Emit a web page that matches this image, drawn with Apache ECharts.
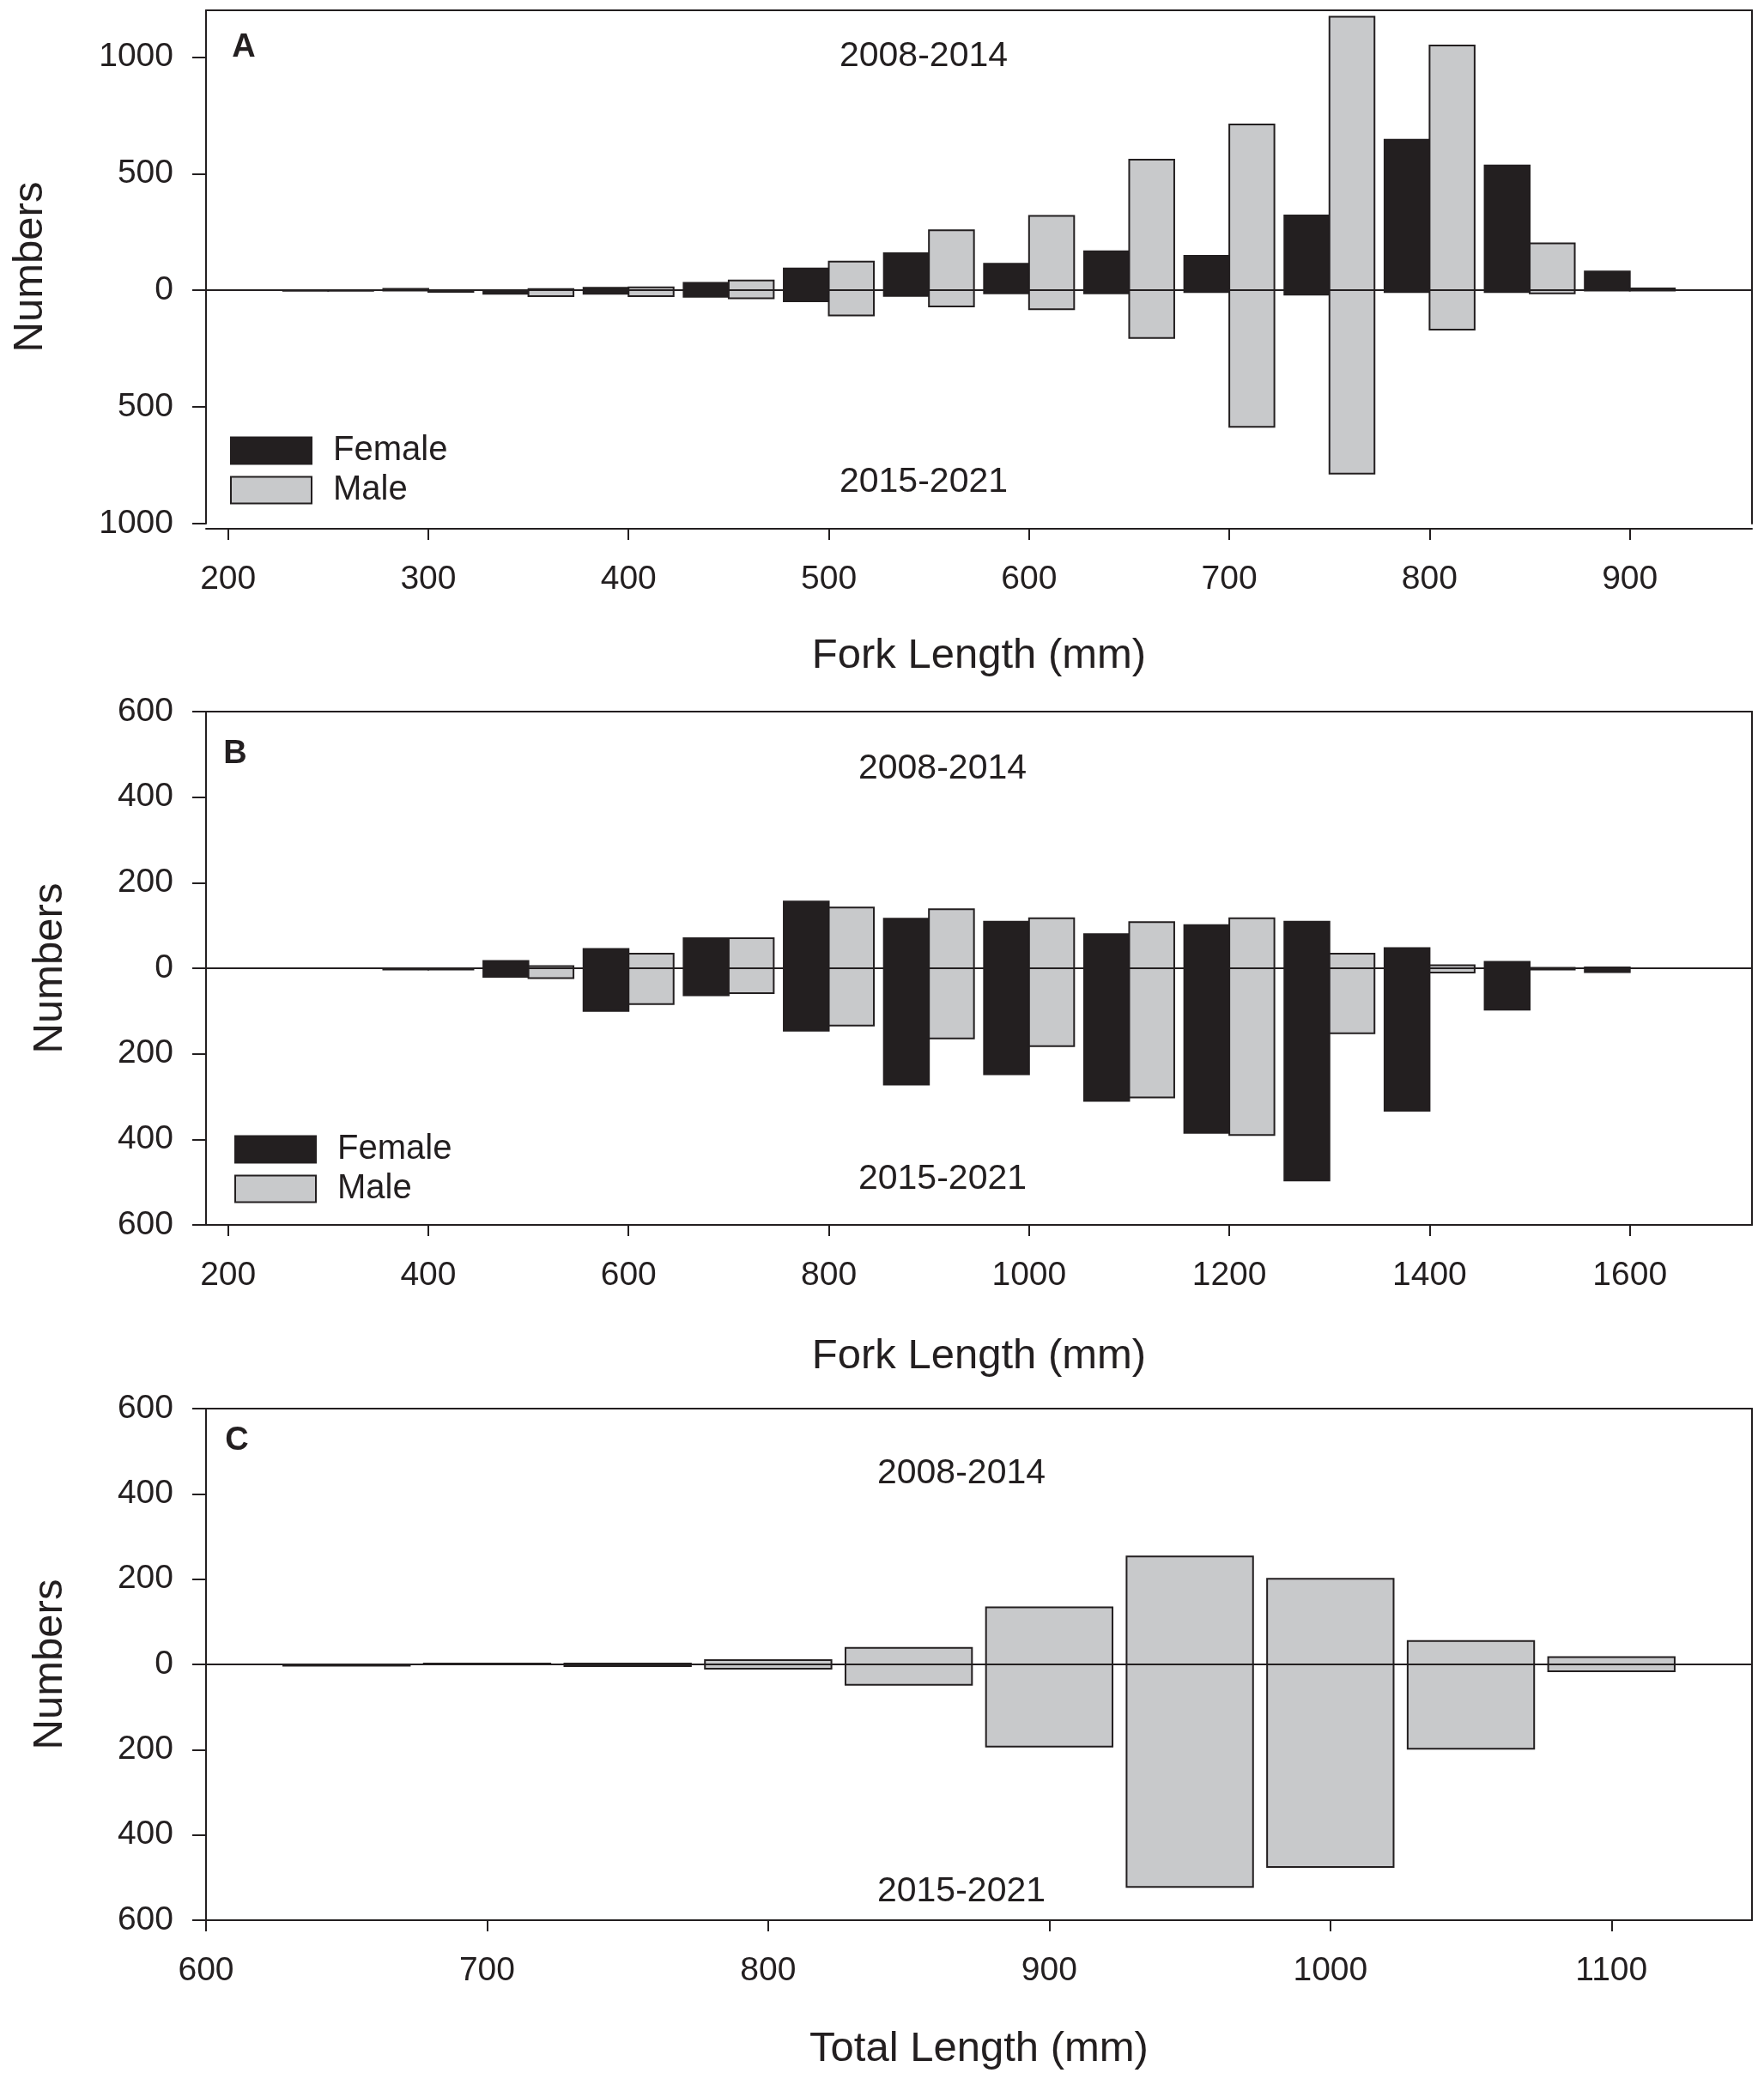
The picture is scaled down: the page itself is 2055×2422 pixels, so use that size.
<!DOCTYPE html>
<html>
<head>
<meta charset="utf-8">
<title>Length frequency by period</title>
<script src="https://cdn.jsdelivr.net/npm/echarts@6/dist/echarts.min.js"></script>
<style>
    html, body { margin: 0; padding: 0; background: #fff; }
    #chart { width: 2055px; height: 2422px; }
</style>
</head>
<body>
<div id="chart"></div>
<script>
// Panel A: fork length bins (mm); "up" = 2008-2014, "down" = 2015-2021
var binsA = [250, 300, 350, 400, 450, 500, 550, 600, 650, 700, 750, 800, 850, 900];
var femaleUpA = [0, 6, 1, 11, 32, 94, 159, 114, 167, 148, 321, 645, 535, 81];
var femaleDownA = [2, 1, 15, 15, 28, 47, 24, 13, 13, 8, 19, 8, 8, 1];
var maleUpA = [0, 1, 5, 13, 42, 123, 257, 319, 560, 711, 1172, 1049, 201, 8];
var maleDownA = [2, 7, 25, 25, 34, 108, 69, 81, 204, 585, 786, 169, 13, 1];

// Panel B: fork length bins (mm)
var binsB = [400, 500, 600, 700, 800, 900, 1000, 1100, 1200, 1300, 1400, 1500, 1600];
var femaleUpB = [0, 17, 45, 70, 156, 116, 109, 80, 101, 109, 47, 15, 2];
var femaleDownB = [3, 20, 100, 63, 146, 272, 248, 310, 385, 496, 333, 97, 9];
var maleUpB = [0, 5, 34, 70, 142, 138, 117, 108, 117, 34, 7, 1, 0];
var maleDownB = [3, 23, 84, 58, 134, 164, 182, 302, 390, 152, 10, 3, 0];

// Panel C: total length bins (mm), one group only
var binsC = [650, 700, 750, 800, 850, 900, 950, 1000, 1050, 1100];
var upC = [0, 2, 2, 10, 39, 134, 253, 201, 55, 17];
var downC = [3, 0, 4, 10, 48, 193, 522, 475, 198, 16];

// tick labels
var xTicksA = [200, 300, 400, 500, 600, 700, 800, 900];
var yTicksA = [-1000, -500, 0, 500, 1000];
var xTicksB = [200, 400, 600, 800, 1000, 1200, 1400, 1600];
var yTicksB = [-600, -400, -200, 0, 200, 400, 600];
var xTicksC = [600, 700, 800, 900, 1000, 1100];
var yTicksC = [-600, -400, -200, 0, 200, 400, 600];

var INK = "#231f20";
var GREY = "#c8c9cb";
var FONT = "Liberation Sans, Arial, sans-serif";

// [bin, up, down] rows for a custom series
function rows(bins, up, down) {
    return bins.map(function(b, i) { return [b, up[i], down[i]]; });
}

// rectangle from +up to -down, spanning bin+from .. bin+to on the x scale
function barRenderer(from, to, fill) {
    return function(params, api) {
        var x = api.value(0);
        var a = api.coord([x + from, api.value(1)]);
        var b = api.coord([x + to, -api.value(2)]);
        return {
            type: "rect",
            shape: { x: a[0], y: a[1], width: b[0] - a[0], height: b[1] - a[1] },
            style: { fill: fill, stroke: INK, lineWidth: 2 }
        };
    };
}

function xAxes(grid, min, max, ticks, name, nameGap, offset) {
    return [{
        gridIndex: grid, type: "value", min: min, max: max, offset: offset || 0,
        name: name, nameLocation: "middle", nameGap: nameGap,
        nameTextStyle: { fontSize: 49, color: INK, fontFamily: FONT },
        axisLine: { show: true, onZero: false, lineStyle: { color: INK, width: 2 } },
        axisTick: { show: true, length: 13, customValues: ticks, lineStyle: { color: INK, width: 2 } },
        axisLabel: {
            customValues: ticks, margin: 40, fontSize: 39, color: INK, fontFamily: FONT,
            formatter: function(v) { return String(v); }
        },
        splitLine: { show: false }
    }, {
        gridIndex: grid, type: "value", position: "top", min: min, max: max,
        axisLine: { show: true, onZero: false, lineStyle: { color: INK, width: 2 } },
        axisTick: { show: false }, axisLabel: { show: false }, splitLine: { show: false }
    }];
}

function yAxes(grid, min, max, ticks, nameGap) {
    return [{
        gridIndex: grid, type: "value", min: min, max: max,
        name: "Numbers", nameLocation: "middle", nameGap: nameGap,
        nameTextStyle: { fontSize: 49, color: INK, fontFamily: FONT },
        axisLine: { show: true, onZero: false, lineStyle: { color: INK, width: 2 } },
        axisTick: { show: true, length: 16, customValues: ticks, lineStyle: { color: INK, width: 2 } },
        axisLabel: {
            customValues: ticks, margin: 38, fontSize: 39, color: INK, fontFamily: FONT,
            formatter: function(v) { return String(Math.abs(v)); }
        },
        splitLine: { show: false }
    }, {
        gridIndex: grid, type: "value", position: "right", min: min, max: max,
        axisLine: { show: true, onZero: false, lineStyle: { color: INK, width: 2 } },
        axisTick: { show: false }, axisLabel: { show: false }, splitLine: { show: false }
    }];
}

var zeroLine = {
    silent: true, symbol: "none", label: { show: false },
    lineStyle: { color: INK, width: 2, type: "solid" },
    data: [{ yAxis: 0 }]
};

function series(name, grid, data, from, to, fill, withZero) {
    var s = {
        name: name, type: "custom", xAxisIndex: grid * 2, yAxisIndex: grid * 2,
        renderItem: barRenderer(from, to, fill),
        itemStyle: { color: fill, borderColor: INK, borderWidth: 2 },
        encode: { x: 0, y: 1 },
        data: data, z: 2
    };
    if (withZero) {
        s.markLine = zeroLine;
    }
    return s;
}

function legend(left, top) {
    return {
        orient: "vertical", left: left, top: top, padding: 0,
        itemWidth: 94, itemHeight: 31, itemGap: 6, selectedMode: false,
        textStyle: { fontSize: 40, color: INK, fontFamily: FONT, padding: [0, 0, 0, 20] },
        data: [
            { name: "Female", icon: "rect", itemStyle: { color: INK, borderColor: INK, borderWidth: 2 } },
            { name: "Male", icon: "rect", itemStyle: { color: GREY, borderColor: INK, borderWidth: 2 } }
        ]
    };
}

function label(text, x, y, size, bold) {
    return {
        type: "text", x: x, y: y, z: 10,
        style: {
            text: text, fill: INK, fontSize: size, fontFamily: FONT,
            fontWeight: bold ? "bold" : "normal", align: "center", verticalAlign: "middle"
        }
    };
}

var chart = echarts.init(document.getElementById("chart"), null, { renderer: "canvas" });

var option = {
    animation: false,
    backgroundColor: "#fff",
    grid: [
        { left: 240, right: 14, top: 12, height: 598 },
        { left: 240, right: 14, top: 829, height: 598 },
        { left: 240, right: 14, top: 1641, height: 596 }
    ],
    xAxis: [].concat(
        xAxes(0, 189, 961, xTicksA, "Fork Length (mm)", 124, 6),
        xAxes(1, 178, 1722, xTicksB, "Fork Length (mm)", 129),
        xAxes(2, 600, 1150, xTicksC, "Total Length (mm)", 126)
    ),
    yAxis: [].concat(
        yAxes(0, -1000, 1200, yTicksA, 180),
        yAxes(1, -600, 600, yTicksB, 157),
        yAxes(2, -600, 600, yTicksC, 157)
    ),
    legend: [legend(268, 505), legend(273, 1319)],
    series: [
        series("Female", 0, rows(binsA, femaleUpA, femaleDownA), -22.5, 0, INK),
        series("Male", 0, rows(binsA, maleUpA, maleDownA), 0, 22.5, GREY, true),
        series("Female", 1, rows(binsB, femaleUpB, femaleDownB), -45, 0, INK),
        series("Male", 1, rows(binsB, maleUpB, maleDownB), 0, 45, GREY, true),
        series("Total", 2, rows(binsC, upC, downC), -22.5, 22.5, GREY, true)
    ],
    graphic: [
        label("A", 284, 56, 38, true),
        label("B", 274, 879, 38, true),
        label("C", 276, 1679, 38, true),
        label("2008-2014", 1076, 66, 41),
        label("2015-2021", 1076, 562, 41),
        label("2008-2014", 1098, 896, 41),
        label("2015-2021", 1098, 1374, 41),
        label("2008-2014", 1120, 1717, 41),
        label("2015-2021", 1120, 2204, 41)
    ]
};

chart.setOption(option);
</script>
</body>
</html>
